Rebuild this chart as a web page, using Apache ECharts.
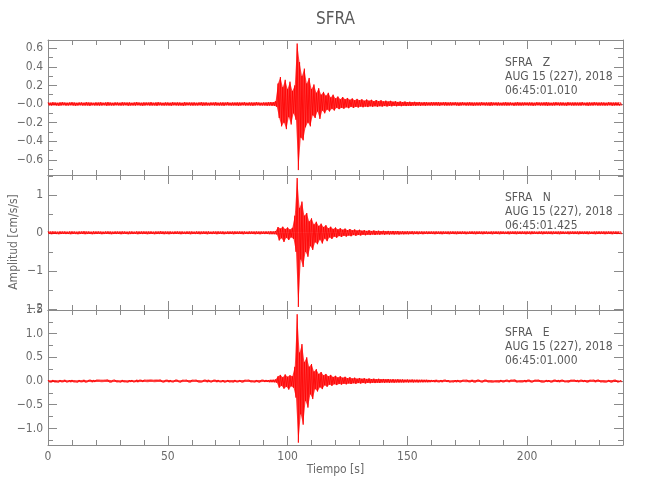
<!DOCTYPE html>
<html><head><meta charset="utf-8">
<script src="https://cdn.jsdelivr.net/npm/echarts@6/dist/echarts.min.js"></script>
<style>html,body{margin:0;padding:0;background:#fff}#c{width:650px;height:500px}</style>
</head><body><div id="c"></div>
<script>
// ---- data: per-second envelope of each trace (upper / lower excursion), cm/s/s ----
const zUp=[.016,.014,.018,.015,.013,.017,.019,.015,.014,.016,
.018,.015,.013,.016,.017,.014,.019,.016,.015,.013,
.017,.015,.018,.014,.016,.019,.015,.013,.017,.016,
.014,.018,.016,.015,.017,.013,.016,.020,.015,.014,
.017,.016,.015,.019,.014,.016,.018,.015,.013,.017,
.016,.014,.018,.015,.017,.016,.013,.019,.015,.016,
.015,.017,.014,.016,.018,.015,.017,.013,.016,.015,
.018,.014,.016,.017,.015,.019,.014,.016,.015,.017,
.016,.015,.018,.014,.017,.016,.015,.019,.016,.014,
.017,.016,.018,.020,.019,.030,.22,.29,.18,.26,
.16,.24,.14,.20,.65,.45,.30,.38,.22,.28,
.16,.21,.12,.17,.10,.13,.09,.12,.07,.10,
.06,.08,.05,.075,.05,.065,.045,.06,.04,.055,
.04,.05,.035,.048,.035,.045,.03,.042,.03,.04,
.028,.036,.026,.034,.025,.03,.022,.028,.021,.026,
.020,.024,.019,.023,.018,.022,.017,.020,.019,.017,
.020,.018,.019,.020,.017,.018,.019,.016,.018,.017,
.018,.016,.017,.019,.015,.017,.018,.016,.015,.017,
.016,.018,.015,.017,.016,.019,.015,.016,.017,.014,
.016,.018,.015,.017,.014,.016,.019,.015,.016,.017,
.015,.017,.016,.014,.018,.016,.015,.017,.019,.016,
.014,.016,.018,.015,.017,.016,.014,.018,.015,.016,
.017,.015,.016,.019,.014,.016,.017,.015,.018,.016,
.015,.017,.016,.014,.018,.016,.015,.017,.016,.015];
const zDn=[-.015,-.017,-.014,-.016,-.018,-.015,-.013,-.017,-.016,-.014,
-.016,-.018,-.015,-.014,-.017,-.016,-.015,-.019,-.014,-.016,
-.015,-.017,-.016,-.014,-.018,-.015,-.016,-.017,-.014,-.015,
-.017,-.015,-.014,-.018,-.016,-.015,-.017,-.014,-.016,-.018,
-.015,-.014,-.017,-.016,-.015,-.018,-.014,-.016,-.017,-.015,
-.016,-.018,-.014,-.015,-.017,-.016,-.019,-.015,-.014,-.016,
-.017,-.015,-.016,-.014,-.018,-.016,-.015,-.017,-.014,-.016,
-.015,-.017,-.016,-.018,-.014,-.015,-.017,-.016,-.015,-.018,
-.016,-.014,-.017,-.015,-.016,-.018,-.015,-.014,-.017,-.016,
-.016,-.018,-.017,-.019,-.020,-.030,-.15,-.24,-.20,-.27,
-.14,-.22,-.10,-.17,-.71,-.36,-.39,-.25,-.20,-.24,
-.12,-.15,-.08,-.16,-.07,-.10,-.06,-.08,-.05,-.07,
-.04,-.055,-.04,-.05,-.035,-.045,-.03,-.042,-.03,-.038,
-.028,-.035,-.027,-.033,-.025,-.03,-.024,-.029,-.023,-.028,
-.022,-.026,-.021,-.025,-.020,-.024,-.019,-.023,-.018,-.022,
-.018,-.021,-.017,-.020,-.016,-.019,-.016,-.018,-.015,-.017,
-.017,-.015,-.016,-.018,-.014,-.016,-.017,-.015,-.016,-.014,
-.016,-.018,-.015,-.014,-.017,-.016,-.015,-.018,-.016,-.015,
-.017,-.014,-.016,-.015,-.018,-.016,-.014,-.017,-.015,-.016,
-.015,-.017,-.016,-.014,-.018,-.015,-.016,-.017,-.015,-.014,
-.016,-.015,-.018,-.016,-.014,-.017,-.015,-.016,-.018,-.015,
-.017,-.016,-.014,-.017,-.015,-.016,-.018,-.014,-.016,-.017,
-.015,-.016,-.017,-.014,-.016,-.018,-.015,-.016,-.014,-.017,
-.016,-.015,-.017,-.016,-.014,-.018,-.016,-.015,-.017,-.016];
const nUp=[.034,.031,.037,.033,.029,.036,.032,.035,.030,.034,
.036,.032,.029,.035,.033,.038,.031,.034,.030,.036,
.033,.035,.031,.029,.034,.037,.032,.030,.035,.033,
.031,.036,.034,.030,.033,.035,.029,.037,.032,.034,
.035,.031,.033,.036,.030,.034,.032,.038,.031,.033,
.032,.035,.030,.034,.036,.031,.033,.029,.035,.032,
.034,.030,.036,.033,.031,.035,.032,.037,.030,.034,
.033,.036,.031,.034,.029,.035,.032,.033,.036,.031,
.035,.032,.034,.030,.036,.033,.031,.035,.032,.034,
.033,.036,.034,.038,.036,.045,.15,.11,.16,.10,
.14,.09,.13,.45,1.44,.65,.82,.45,.52,.30,
.38,.22,.29,.18,.24,.15,.20,.12,.16,.10,
.14,.09,.12,.08,.11,.07,.10,.065,.09,.06,
.08,.055,.07,.05,.065,.048,.06,.045,.055,.043,
.052,.041,.05,.04,.048,.039,.045,.037,.043,.036,
.04,.035,.039,.034,.037,.033,.036,.032,.035,.033,
.035,.033,.036,.032,.034,.035,.031,.034,.033,.036,
.032,.034,.031,.035,.033,.030,.034,.036,.032,.033,
.035,.031,.033,.034,.030,.036,.032,.034,.031,.035,
.033,.030,.035,.032,.034,.036,.031,.033,.035,.032,
.034,.031,.036,.033,.030,.034,.035,.032,.033,.031,
.035,.033,.031,.034,.036,.032,.030,.034,.033,.035,
.032,.034,.036,.031,.033,.035,.032,.030,.034,.033,
.036,.032,.034,.031,.035,.033,.032,.034,.031,.033];
const nDn=[-.033,-.035,-.031,-.034,-.036,-.032,-.030,-.034,-.033,-.035,
-.031,-.034,-.036,-.032,-.030,-.035,-.033,-.031,-.036,-.034,
-.032,-.030,-.035,-.033,-.031,-.034,-.036,-.032,-.033,-.030,
-.035,-.032,-.031,-.036,-.034,-.033,-.030,-.035,-.032,-.034,
-.031,-.035,-.033,-.030,-.036,-.032,-.034,-.031,-.035,-.033,
-.036,-.032,-.034,-.030,-.033,-.035,-.031,-.034,-.032,-.036,
-.030,-.034,-.032,-.035,-.033,-.031,-.036,-.032,-.034,-.030,
-.035,-.031,-.033,-.036,-.032,-.034,-.030,-.035,-.031,-.033,
-.032,-.036,-.031,-.034,-.033,-.030,-.035,-.032,-.036,-.031,
-.034,-.033,-.036,-.035,-.036,-.045,-.20,-.14,-.24,-.13,
-.19,-.12,-.16,-.50,-1.95,-.70,-.90,-.50,-.63,-.35,
-.45,-.25,-.30,-.18,-.28,-.15,-.22,-.12,-.16,-.10,
-.13,-.085,-.11,-.075,-.10,-.07,-.09,-.06,-.08,-.055,
-.07,-.05,-.065,-.048,-.06,-.045,-.055,-.043,-.052,-.041,
-.05,-.04,-.047,-.039,-.045,-.038,-.043,-.036,-.041,-.035,
-.039,-.034,-.038,-.033,-.036,-.032,-.035,-.031,-.034,-.032,
-.033,-.035,-.031,-.034,-.036,-.032,-.033,-.035,-.031,-.034,
-.036,-.032,-.034,-.030,-.035,-.033,-.031,-.034,-.036,-.032,
-.033,-.035,-.031,-.034,-.032,-.036,-.030,-.033,-.035,-.031,
-.034,-.032,-.036,-.031,-.033,-.035,-.030,-.034,-.032,-.036,
-.031,-.035,-.033,-.030,-.034,-.032,-.036,-.031,-.034,-.033,
-.035,-.031,-.034,-.036,-.032,-.033,-.030,-.035,-.031,-.034,
-.033,-.036,-.031,-.034,-.032,-.035,-.030,-.033,-.036,-.032,
-.034,-.031,-.035,-.033,-.032,-.036,-.031,-.034,-.033,-.035];
const eUp=[.022,.019,.024,.021,.018,.023,.020,.025,.019,.022,
.024,.020,.018,.023,.021,.025,.019,.022,.020,.024,
.021,.023,.019,.018,.022,.025,.020,.019,.023,.021,
.019,.024,.022,.018,.021,.023,.019,.025,.020,.022,
.023,.019,.021,.024,.018,.022,.020,.025,.019,.021,
.020,.023,.018,.022,.024,.019,.021,.018,.023,.020,
.022,.018,.024,.021,.019,.023,.020,.025,.018,.022,
.021,.024,.019,.022,.018,.023,.020,.021,.024,.019,
.023,.020,.022,.018,.024,.021,.019,.023,.020,.022,
.021,.024,.022,.025,.027,.035,.10,.13,.08,.14,
.09,.12,.10,.30,1.41,.60,.78,.40,.50,.30,
.36,.20,.25,.15,.19,.12,.15,.10,.13,.085,
.11,.075,.10,.07,.09,.06,.08,.055,.072,.05,
.065,.048,.06,.045,.055,.042,.05,.04,.047,.038,
.044,.036,.042,.034,.04,.032,.037,.031,.035,.03,
.033,.028,.031,.027,.03,.026,.028,.025,.027,.024,
.024,.022,.025,.021,.023,.020,.024,.022,.019,.023,
.021,.024,.020,.022,.019,.023,.021,.025,.020,.022,
.023,.019,.021,.024,.020,.022,.018,.023,.021,.024,
.020,.022,.019,.023,.021,.025,.019,.022,.020,.023,
.021,.024,.019,.022,.020,.023,.021,.018,.024,.022,
.019,.023,.021,.024,.020,.022,.019,.023,.021,.020,
.022,.024,.019,.021,.023,.020,.022,.018,.024,.021,
.023,.020,.022,.019,.024,.021,.020,.023,.019,.022];
const eDn=[-.021,-.023,-.019,-.022,-.024,-.020,-.018,-.022,-.021,-.023,
-.019,-.022,-.024,-.020,-.018,-.023,-.021,-.019,-.024,-.022,
-.020,-.018,-.023,-.021,-.019,-.022,-.024,-.020,-.021,-.018,
-.023,-.020,-.019,-.024,-.022,-.021,-.018,-.023,-.020,-.022,
-.019,-.023,-.021,-.018,-.024,-.020,-.022,-.019,-.023,-.021,
-.024,-.020,-.022,-.018,-.021,-.023,-.019,-.022,-.020,-.024,
-.018,-.022,-.020,-.023,-.021,-.019,-.024,-.020,-.022,-.018,
-.023,-.019,-.021,-.024,-.020,-.022,-.018,-.023,-.019,-.021,
-.020,-.024,-.019,-.022,-.021,-.018,-.023,-.020,-.024,-.019,
-.022,-.021,-.024,-.023,-.026,-.035,-.14,-.10,-.16,-.12,
-.18,-.11,-.14,-.35,-1.30,-.70,-.92,-.42,-.56,-.28,
-.38,-.17,-.22,-.13,-.17,-.09,-.12,-.075,-.10,-.065,
-.085,-.06,-.075,-.055,-.07,-.05,-.062,-.046,-.058,-.043,
-.053,-.04,-.05,-.038,-.046,-.036,-.043,-.034,-.04,-.032,
-.038,-.031,-.036,-.03,-.034,-.029,-.032,-.028,-.031,-.027,
-.03,-.026,-.029,-.025,-.028,-.025,-.027,-.024,-.026,-.023,
-.021,-.023,-.019,-.022,-.024,-.020,-.021,-.023,-.019,-.022,
-.024,-.020,-.022,-.018,-.023,-.021,-.019,-.022,-.024,-.020,
-.021,-.023,-.019,-.022,-.020,-.024,-.018,-.021,-.023,-.019,
-.022,-.020,-.024,-.019,-.021,-.023,-.018,-.022,-.020,-.024,
-.019,-.023,-.021,-.018,-.022,-.020,-.024,-.019,-.022,-.021,
-.023,-.019,-.022,-.024,-.020,-.021,-.018,-.023,-.019,-.022,
-.021,-.024,-.019,-.022,-.020,-.023,-.018,-.021,-.024,-.020,
-.022,-.019,-.023,-.021,-.020,-.024,-.019,-.022,-.021,-.023];

// ---- axes: ranges, tick values and tick labels ----
const timeRange=[0,240];
const xMajor=[0,50,100,150,200];
const xMinor=[10,20,30,40,60,70,80,90,110,120,130,140,160,170,180,190,210,220,230];
const zRange=[-0.763,0.688];
const zMajor=[-0.6,-0.4,-0.2,0,0.2,0.4,0.6];
const zLabels=['\u22120.6','\u22120.4','\u22120.2','\u22120.0','0.2','0.4','0.6'];
const zMinor=[-0.7,-0.5,-0.3,-0.1,0.1,0.3,0.5];
const nRange=[-2.03,1.52];
const nMajor=[-2,-1,0,1];
const nLabels=['\u22122','\u22121','0','1'];
const nMinor=[-1.5,-0.5,0.5,1.5];
const eRange=[-1.35,1.5];
const eMajor=[-1,-0.5,0,0.5,1,1.5];
const eLabels=['\u22121.0','\u22120.5','0.0','0.5','1.0','1.5'];
const eMinor=[-1.25,-0.75,-0.25,0.25,0.75,1.25];
const zInfo=['SFRA   Z','AUG 15 (227), 2018','06:45:01.010'];
const nInfo=['SFRA   N','AUG 15 (227), 2018','06:45:01.425'];
const eInfo=['SFRA   E','AUG 15 (227), 2018','06:45:01.000'];
const titleText='SFRA';
const xName='Tiempo [s]';
const yName='Amplitud [cm/s/s]';

const panels=[
  {up:zUp,dn:zDn,range:zRange,major:zMajor,labels:zLabels,minor:zMinor,info:zInfo},
  {up:nUp,dn:nDn,range:nRange,major:nMajor,labels:nLabels,minor:nMinor,info:nInfo},
  {up:eUp,dn:eDn,range:eRange,major:eMajor,labels:eLabels,minor:eMinor,info:eInfo}
];

const FONT='"Liberation Sans Narrow","DejaVu Sans Condensed","Liberation Sans",sans-serif';
const AX='#8a8a8a', TX='#6a6a6a', RED='#ff0000';
const gridTops=[40,175,310], gridH=135, gridL=48, gridW=575;
const grids=gridTops.map(t=>({left:gridL,top:t,width:gridW,height:gridH,outerBoundsMode:'none',containLabel:false}));
const xAxes=[], yAxes=[], series=[], graphics=[];

panels.forEach((p,g)=>{
  const xi=xAxes.length, yi=yAxes.length;
  [['bottom',xMajor,9,true],['bottom',xMinor,5,false],['top',xMajor,9,true],['top',xMinor,5,false]].forEach(([pos,vals,len,line],k)=>{
    xAxes.push({type:'value',gridIndex:g,position:pos,min:timeRange[0],max:timeRange[1],
      axisLine:{show:line,onZero:false,lineStyle:{color:AX,width:1}},
      axisTick:{show:true,inside:true,length:len,customValues:vals,lineStyle:{color:AX,width:1}},
      axisLabel:{show:(g===2&&k===0),customValues:xMajor,color:TX,fontFamily:FONT,fontSize:12,margin:6,
        formatter:v=>String(Math.round(v))},
      splitLine:{show:false}});
  });
  [['left',p.major,9,true,true],['left',p.minor,5,false,false],['right',p.major,9,true,false],['right',p.minor,5,false,false]].forEach(([pos,vals,len,line,lab])=>{
    yAxes.push({type:'value',gridIndex:g,position:pos,min:p.range[0],max:p.range[1],
      axisLine:{show:line,onZero:false,lineStyle:{color:AX,width:1}},
      axisTick:{show:true,inside:true,length:len,customValues:vals,lineStyle:{color:AX,width:1}},
      axisLabel:{show:lab,customValues:p.major,color:TX,fontFamily:FONT,fontSize:12,margin:5,
        showMinLabel:true,showMaxLabel:true,
        formatter:v=>{const i=p.major.findIndex(m=>Math.abs(m-v)<1e-9);return i<0?'':p.labels[i];}},
      splitLine:{show:false}});
  });
  const upPts=[], dnPts=[], zig=[];
  for(let i=0;i<p.up.length;i++){
    upPts.push([timeRange[0]+i,p.up[i]]);
    dnPts.push([timeRange[0]+i+0.5,p.dn[i]]);
    zig.push([timeRange[0]+i,p.up[i]]); zig.push([timeRange[0]+i+0.5,p.dn[i]]);
  }
  const base={type:'line',xAxisIndex:xi,yAxisIndex:yi,showSymbol:false,symbol:'none',
    sampling:null,clip:true,silent:true,animation:false};
  series.push(Object.assign({},base,{data:upPts,lineStyle:{width:0},areaStyle:{color:RED,opacity:0.75,origin:0}}));
  series.push(Object.assign({},base,{data:dnPts,lineStyle:{width:0},areaStyle:{color:RED,opacity:0.75,origin:0}}));
  series.push(Object.assign({},base,{data:zig,lineStyle:{color:RED,width:0.8}}));
  graphics.push({type:'text',x:505,y:gridTops[g]+16,silent:true,
    style:{text:p.info.join('\n'),fill:'#5a5a5a',font:'12px '+FONT,lineHeight:14,textVerticalAlign:'top'}});
});

graphics.push({type:'text',x:gridL+gridW/2,y:20,silent:true,
  style:{text:titleText,fill:'#5a5a5a',font:'17px '+FONT,textAlign:'center',textVerticalAlign:'middle'}});
graphics.push({type:'text',x:gridL+gridW/2,y:470,silent:true,
  style:{text:xName,fill:'#6a6a6a',font:'12px '+FONT,textAlign:'center',textVerticalAlign:'middle'}});
graphics.push({type:'text',x:14,y:242,rotation:Math.PI/2,silent:true,
  style:{text:yName,fill:'#6a6a6a',font:'12px '+FONT,textAlign:'center',textVerticalAlign:'middle'}});

const chart=echarts.init(document.getElementById('c'),null,{renderer:'canvas'});
chart.setOption({animation:false,backgroundColor:'#fff',grid:grids,xAxis:xAxes,yAxis:yAxes,series:series,graphic:graphics});
</script></body></html>
